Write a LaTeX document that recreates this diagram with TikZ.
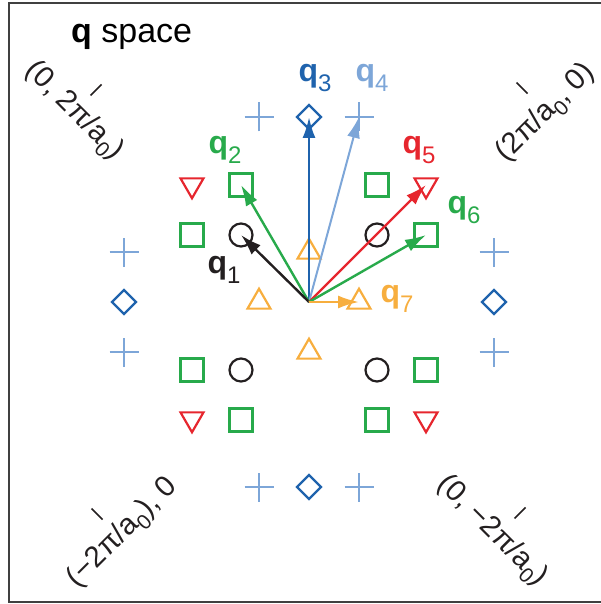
\documentclass[tikz,border=0pt]{standalone}
\usepackage{fontspec}
\setmainfont{Liberation Sans}
\usetikzlibrary{shapes.geometric,arrows.meta}
\definecolor{cgreen}{RGB}{40,170,75}
\definecolor{cred}{RGB}{230,38,46}
\definecolor{corange}{RGB}{247,174,62}
\definecolor{cdblue}{RGB}{31,99,173}
\definecolor{clblue}{RGB}{125,166,216}
\definecolor{cblack}{RGB}{35,31,32}
\newcommand{\qlab}[1]{\textbf{q}\raisebox{-0.3em}{\fontsize{24}{24}\selectfont #1}}
\newcommand{\azero}{a\raisebox{-0.25em}{\fontsize{21}{21}\selectfont 0}}
\begin{document}
\begin{tikzpicture}[x=1pt,y=-1pt,
  sym/.style={line width=2.2pt, inner sep=0pt, outer sep=0pt},
  sq/.style={sym, draw=cgreen, rectangle, minimum size=23pt},
  circ/.style={sym, draw=cblack, circle, minimum size=23pt},
  dia/.style={sym, draw=cdblue, diamond, minimum size=24pt},
  tru/.style={sym, draw=corange, regular polygon, regular polygon sides=3, minimum size=26.5pt},
  trd/.style={sym, draw=cred, regular polygon, regular polygon sides=3, minimum size=26.5pt, shape border rotate=180},
  plusarm/.style={line width=2pt, draw=clblue},
  vec/.style={line width=2.4pt, -{Latex[length=21pt,width=13pt]}},
  lab/.style={font=\fontsize{32}{36}\selectfont, inner sep=0pt},
  corner/.style={font=\fontsize{29.5}{36}\selectfont, inner sep=0pt, text=cblack},
  tick/.style={line width=1.5pt, draw=cblack}
  ]
\useasboundingbox (0,0) rectangle (600,604);
\draw[line width=2pt, draw=black!75] (601,3) -- (9,3) -- (9,602) -- (601,602);

\node[font=\fontsize{34}{40}\selectfont, anchor=base west, inner sep=0pt, text=black] (title) at (71,43) {\textbf{q} space};

% blue diamonds and plus signs
\node[dia] (d1) at (309,117) {};
\node[dia] (d2) at (124,302) {};
\node[dia] (d3) at (494,302) {};
\node[dia] (d4) at (309,487) {};
\foreach \n/\x/\y in {p1/259/117, p2/359/117, p3/124/252, p4/124/352, p5/494/252, p6/494/352, p7/259/487, p8/359/487}{
  \coordinate (\n) at (\x,\y);
  \draw[plusarm] ([xshift=-14.5pt]\n) -- ([xshift=14.5pt]\n);
  \draw[plusarm] ([yshift=-14.5pt]\n) -- ([yshift=14.5pt]\n);
}

% green squares
\node[sq] (s1) at (241,185) {};
\node[sq] (s2) at (377,185) {};
\node[sq] (s3) at (192,235) {};
\node[sq] (s4) at (426,235) {};
\node[sq] (s5) at (192,370) {};
\node[sq] (s6) at (426,370) {};
\node[sq] (s7) at (241,420) {};
\node[sq] (s8) at (377,420) {};

% black circles
\node[circ] (c1) at (241,235) {};
\node[circ] (c2) at (377,235) {};
\node[circ] (c3) at (241,370) {};
\node[circ] (c4) at (377,370) {};

% red triangles
\node[trd] (r1) at (192,185) {};
\node[trd] (r2) at (426,185) {};
\node[trd] (r3) at (192,419) {};
\node[trd] (r4) at (426,419) {};

% orange triangles
\node[tru] (t1) at (309,252) {};
\node[tru] (t2) at (259,302) {};
\node[tru] (t3) at (359,302) {};
\node[tru] (t4) at (309,352) {};

% vectors
\coordinate (o) at (309,302);
\draw[vec, cdblue] (o) -- (d1.center);
\draw[vec, clblue, line width=2pt] (o) -- (p2);
\draw[vec, cgreen] (o) -- (s1.center);
\draw[vec, cblack] (o) -- (c1.center);
\draw[vec, cred] (o) -- (r2.center);
\draw[vec, cgreen] (o) -- (s4.center);
\draw[vec, corange] (o) -- (t3.center);

% labels
\node[lab, text=cblack] (q1) at (224,270) {\qlab{1}};
\node[lab, text=cgreen] (q2) at (225,150) {\qlab{2}};
\node[lab, text=cdblue] (q3) at (315,78) {\qlab{3}};
\node[lab, text=clblue] (q4) at (372,78) {\qlab{4}};
\node[lab, text=cred] (q5) at (419,150) {\qlab{5}};
\node[lab, text=cgreen] (q6) at (464,210) {\qlab{6}};
\node[lab, text=corange] (q7) at (397,299) {\qlab{7}};

% corner labels
\node[corner, rotate=-45] (tl) at (74,111) {(0, 2π/\azero)};
\node[corner, rotate=45] (tr) at (546,113) {(2π/\azero, 0)};
\node[corner, rotate=45] (bl) at (123,533) {(−2π/\azero), 0};
\node[corner, rotate=-45] (br) at (492,531) {(0, −2π/\azero)};
\draw[tick] (90.5,95.5) -- (101.5,84.5);
\draw[tick] (516.5,82.5) -- (527.5,93.5);
\draw[tick] (91.5,508.5) -- (102.5,519.5);
\draw[tick] (514.5,518.5) -- (525.5,507.5);
\end{tikzpicture}
\end{document}
